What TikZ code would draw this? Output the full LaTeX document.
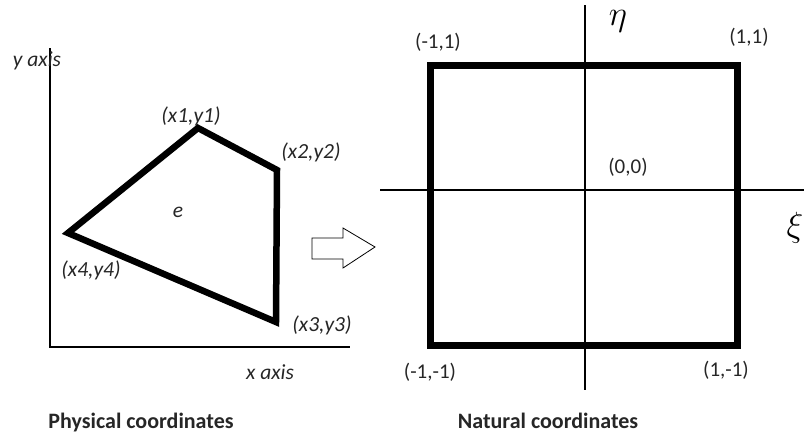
\RequirePackage{fix-cm}
\documentclass[tikz,border=0pt]{standalone}
\usepackage{fontspec}
\setmainfont{Carlito}
\begin{document}
\begin{tikzpicture}[x=1pt,y=-1pt,
  lbl/.style={font=\fontsize{21.5}{22}\selectfont\itshape, text=black!85, inner sep=0pt},
  nlbl/.style={font=\fontsize{21}{22}\selectfont, text=black!85, inner sep=0pt},
  captext/.style={font=\fontsize{22}{22}\selectfont\bfseries, text=black!85, inner sep=0pt},
  greek/.style={font=\fontsize{35}{35}\selectfont, inner sep=0pt},
  thinaxis/.style={line width=1.3pt},
  thickaxis/.style={line width=2.8pt},
  edge/.style={line width=6.5pt, line join=miter},
  sq/.style={line width=7pt, line join=miter}]
\useasboundingbox (0,0) rectangle (804,440);
% left axes
\coordinate (yt) at (50,48);
\coordinate (o) at (50,347);
\coordinate (xr) at (350,347);
\draw[thinaxis] (yt) -- (o) -- (xr);
\node[lbl] (ylab) at (37,61) {y axis};
\node[lbl] (xlab) at (270,372) {x axis};
% quadrilateral
\coordinate (p1) at (198,128);
\coordinate (p2) at (277,170);
\coordinate (p3) at (276,322);
\coordinate (p4) at (68,233);
\draw[edge] (p1) -- (p2) -- (p3) -- (p4) -- cycle;
\node[lbl] (l1) at (191,116) {(x1,y1)};
\node[lbl] (l2) at (311,152) {(x2,y2)};
\node[lbl] (l3) at (322,325) {(x3,y3)};
\node[lbl] (l4) at (91,270) {(x4,y4)};
\node[lbl] (e) at (178,212) {e};
% transform arrow
\draw[line width=0.8pt, fill=white] (312,238) -- (343,238) -- (343,228) -- (375,247) -- (343,268) -- (343,259) -- (312,259) -- cycle;
% natural axes
\coordinate (vt) at (585,5);
\coordinate (vb) at (585,390);
\coordinate (hl) at (380,190);
\coordinate (hr) at (804,190);
\draw[thickaxis] (vt) -- (vb);
\draw[thickaxis] (hl) -- (hr);
% square
\coordinate (q1) at (430,65);
\coordinate (q2) at (737,65);
\coordinate (q3) at (737,345);
\coordinate (q4) at (430,345);
\draw[sq] (q1) -- (q2) -- (q3) -- (q4) -- cycle;
\node[greek] (eta) at (618,21) {$\eta$};
\node[greek] (xi) at (795,228) {$\xi$};
\node[nlbl] (n1) at (438,42) {(-1,1)};
\node[nlbl] (n2) at (749,37) {(1,1)};
\node[nlbl] (n0) at (628,167) {(0,0)};
\node[nlbl] (n3) at (430,372) {(-1,-1)};
\node[nlbl] (n4) at (726,370) {(1,-1)};
% captions
\node[captext] (c1) at (141,423) {Physical coordinates};
\node[captext] (c2) at (548,421) {Natural coordinates};
\end{tikzpicture}
\end{document}
